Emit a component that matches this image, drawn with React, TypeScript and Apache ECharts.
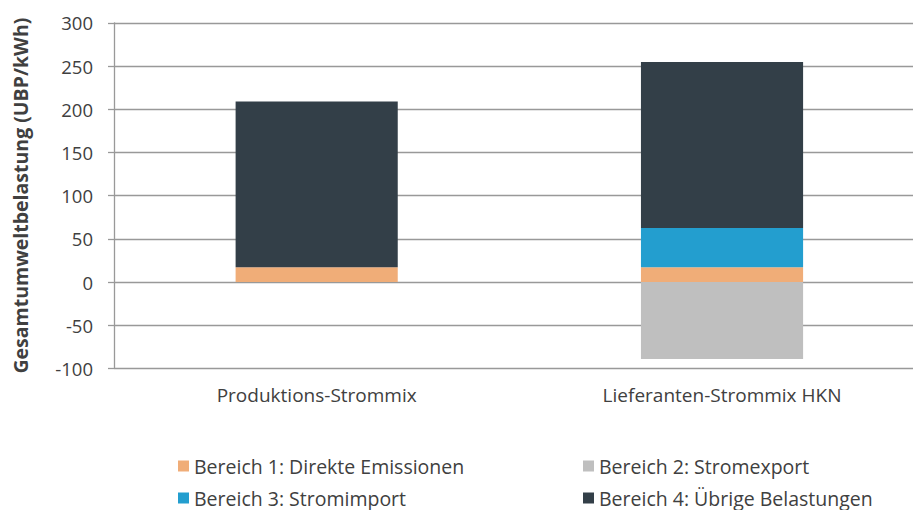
import React, { useEffect, useRef } from "react";
import * as echarts from "echarts";

const categories = ["Produktions-Strommix", "Lieferanten-Strommix HKN"];
const bereich1 = [17, 17];
const bereich2 = [0, -89];
const bereich3 = [0, 45.5];
const bereich4 = [192, 192];
const seriesNames = [
  "Bereich 1: Direkte Emissionen",
  "Bereich 2: Stromexport",
  "Bereich 3: Stromimport",
  "Bereich 4: Übrige Belastungen",
];
const seriesColors = ["#F0AD78", "#BFBFBF", "#239ECF", "#333F48"];
const yTitle = "Gesamtumweltbelastung (UBP/kWh)";

const FONT = "Open Sans";
const TEXT = "#404040";

// legend placement: [left, top] per series
const legendPos = [
  [178, 456],
  [583, 456],
  [178, 488],
  [583, 488],
];

export default function App() {
  const ref = useRef<HTMLDivElement>(null);
  useEffect(() => {
    if (!ref.current) return;
    const chart = echarts.init(ref.current, null, { renderer: "svg" });
    const data = [bereich1, bereich2, bereich3, bereich4];
    chart.setOption({
      animation: false,
      textStyle: { fontFamily: FONT },
      grid: { left: 114, right: 15.3, top: 22.8, bottom: 141.6 },
      legend: seriesNames.map((name, i) => ({
        orient: "horizontal",
        left: legendPos[i][0],
        top: legendPos[i][1],
        padding: 0,
        itemWidth: 11,
        itemHeight: 11,
        icon: "rect",
        data: [name],
        textStyle: { fontFamily: FONT, fontSize: 19.5, color: TEXT, lineHeight: 20 },
      })),
      xAxis: {
        type: "category",
        data: categories,
        axisLine: { show: false, onZero: false },
        axisTick: { show: false },
        axisLabel: { color: TEXT, fontSize: 19, fontFamily: FONT, margin: 17 },
      },
      yAxis: {
        type: "value",
        min: -100,
        max: 300,
        interval: 50,
        name: yTitle,
        nameLocation: "middle",
        nameRotate: 90,
        nameGap: 84,
        nameTextStyle: { fontFamily: FONT, fontSize: 19.5, fontWeight: "bold", color: TEXT },
        axisLine: { show: true, lineStyle: { color: "#999999", width: 1.3 } },
        axisTick: { show: true, length: 6, lineStyle: { color: "#999999", width: 1.3 } },
        splitLine: { show: true, lineStyle: { color: "#999999", width: 1.3 } },
        axisLabel: { color: TEXT, fontSize: 18.5, fontFamily: FONT, margin: 21 },
      },
      series: seriesNames.map((name, i) => ({
        name,
        type: "bar",
        stack: "total",
        barWidth: "40%",
        data: data[i],
        itemStyle: { color: seriesColors[i] },
      })),
    });
    return () => chart.dispose();
  }, []);
  return (
    <div
      style={{
        position: "absolute",
        left: 0,
        top: 0,
        width: 913,
        height: 510,
        overflow: "hidden",
        background: "#fff",
      }}
    >
      <div ref={ref} style={{ width: 940, height: 510 }} />
    </div>
  );
}
